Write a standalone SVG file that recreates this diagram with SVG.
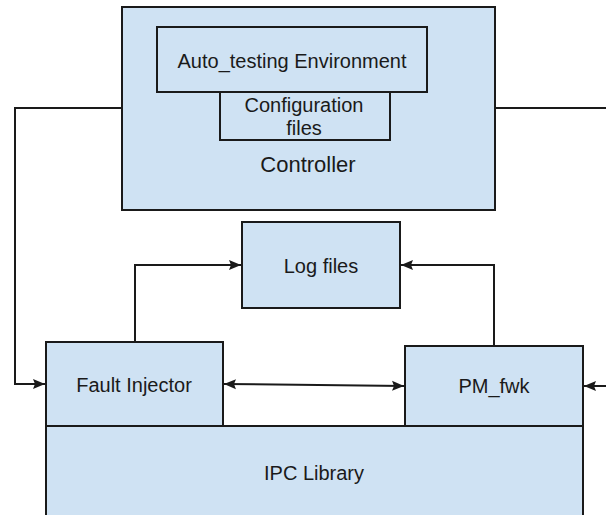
<svg xmlns="http://www.w3.org/2000/svg" width="606" height="515" viewBox="0 0 606 515">
<defs>
<style>
.box{fill:#cfe2f3;stroke:#1a1a1a;stroke-width:2}
.ln{fill:none;stroke:#1a1a1a;stroke-width:2}
text{font-family:"Liberation Sans",Arial,sans-serif;font-size:20px;fill:#1a1a1a;text-anchor:middle}
</style>
<marker id="ah" markerWidth="13" markerHeight="11" refX="12" refY="5.5" orient="auto-start-reverse" markerUnits="userSpaceOnUse">
<path d="M0,0.5 L12,5.5 L0,10.5 L2,5.5 Z" fill="#1a1a1a"/>
</marker>
</defs>
<g id="controller">
<rect class="box" x="122" y="7" width="373" height="203"/>
<text x="308" y="172" style="font-size:22px">Controller</text>
</g>
<g id="auto_testing">
<rect class="box" x="157" y="27" width="270" height="65"/>
<text x="292" y="68">Auto_testing Environment</text>
</g>
<g id="config">
<rect class="box" x="220" y="92" width="170" height="48"/>
<text x="304" y="112">Configuration</text>
<text x="304" y="135">files</text>
</g>
<g id="logfiles">
<rect class="box" x="242" y="222" width="158" height="86"/>
<text x="321" y="273">Log files</text>
</g>
<g id="ipc">
<rect class="box" x="46" y="426" width="537" height="100"/>
<text x="314" y="480">IPC Library</text>
</g>
<g id="fault_injector">
<rect class="box" x="46" y="342" width="177" height="84"/>
<text x="134" y="392">Fault Injector</text>
</g>
<g id="pm_fwk">
<rect class="box" x="405" y="346" width="178" height="80"/>
<text x="494" y="393">PM_fwk</text>
</g>
<g id="connectors">
<polyline class="ln" points="122,108 15,108 15,384 45,384" marker-end="url(#ah)"/>
<line class="ln" x1="495" y1="108" x2="606" y2="108"/>
<polyline class="ln" points="135,342 135,265 241,265" marker-end="url(#ah)"/>
<polyline class="ln" points="494,346 494,265 401,265" marker-end="url(#ah)"/>
<line class="ln" x1="224" y1="384" x2="404" y2="386" marker-start="url(#ah)" marker-end="url(#ah)"/>
<line class="ln" x1="606" y1="386" x2="584" y2="386" marker-end="url(#ah)"/>
</g>
</svg>
